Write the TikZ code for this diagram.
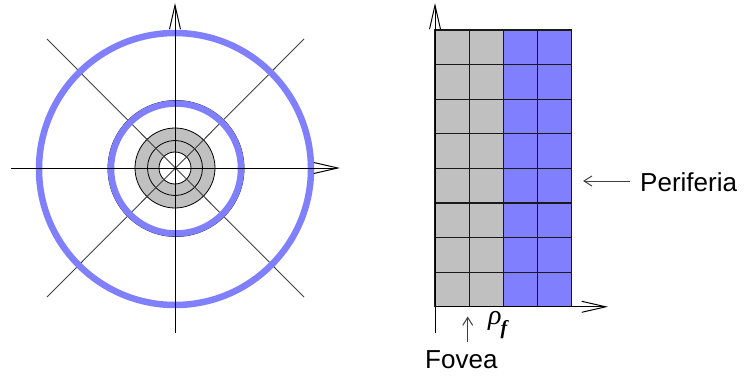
\documentclass[tikz,border=0pt]{standalone}
\usepackage{fontspec}
\setmainfont{Liberation Sans}
\newfontfamily\greekserif{Liberation Serif}
\usetikzlibrary{arrows.meta}
\definecolor{cellgray}{RGB}{192,192,192}
\definecolor{cellblue}{RGB}{128,128,255}
\tikzset{
  axis/.style={line width=1pt, -{Straight Barb[length=24pt,width=11pt,line width=1pt]}},
  spoke/.style={line width=0.9pt, black!75},
  ring/.style={draw=cellblue, line width=6.5pt},
  thin ring/.style={draw=black, line width=0.8pt},
  cell/.style={draw=black!90, line width=1.1pt},
  pointer/.style={line width=1pt, black!75, -{Straight Barb[length=8pt,width=10pt,line width=1pt]}},
  label/.style={inner sep=0pt, font=\fontsize{26}{30}\selectfont},
}
\begin{document}
\begin{tikzpicture}[x=1pt,y=-1pt]
\useasboundingbox (0,0) rectangle (744,377);
% ---- left figure ----
\coordinate (c) at (175,168);
\coordinate (ci) at (176,168.5);
\fill[cellgray] (c) circle[radius=40];
\draw[thin ring] (c) circle[radius=40];
\draw[thin ring] (c) circle[radius=27.5];
\filldraw[fill=white, thin ring] (c) circle[radius=16];
\draw[thin ring] (ci) circle[radius=68];
\coordinate (vb) at (175,333);
\coordinate (vt) at (175,3);
\coordinate (hl) at (11,168);
\coordinate (hr) at (340,168);
\coordinate (d1a) at (47,39);
\coordinate (d1b) at (304,297);
\coordinate (d2a) at (304,39);
\coordinate (d2b) at (47,297);
\draw[spoke] (d1a) -- (d1b);
\draw[spoke] (d2a) -- (d2b);
\draw[ring] (175,169) circle[radius=136];
\draw[ring] (ci) circle[radius=65];
\draw[axis] (vb) -- (vt);
\draw[axis] (hl) -- (hr);
% ---- right figure ----
\foreach \i in {0,1} {
  \foreach \j in {0,...,7} {
    \filldraw[cell, fill=cellgray] (435+\i*34.2, 30+\j*34.6) rectangle ++(34.2,34.6);
  }
}
\foreach \i in {2,3} {
  \foreach \j in {0,...,7} {
    \filldraw[cell, fill=cellblue] (435+\i*34.2, 30+\j*34.6) rectangle ++(34.2,34.6);
  }
}
\coordinate (ob) at (435,333);
\coordinate (ot) at (435,3);
\coordinate (ol) at (435,306.8);
\coordinate (orr) at (608,306.8);
\draw[axis] (ob) -- (ot);
\draw[axis] (ol) -- (orr);
\node[label, anchor=base west] (peri) at (640,191) {Periferia};
\coordinate (peritip) at (583,181);
\draw[pointer] (peri.west |- peritip) ++(-10,0) coordinate (perist) (perist) -- (peritip);
\node[label, anchor=base west] (fov) at (425,368) {Fovea};
\coordinate (fovtip) at (467.7,316.5);
\coordinate (fovst) at (467.7,342);
\draw[pointer] (fovst) -- (fovtip);
\node[inner sep=0pt, anchor=base west, font=\greekserif] (rho) at (488,324) {\fontsize{28}{30}\selectfont\itshape ρ\kern-1pt\raisebox{-10pt}{\fontsize{20}{22}\selectfont\bfseries\itshape f}};
\end{tikzpicture}
\end{document}
